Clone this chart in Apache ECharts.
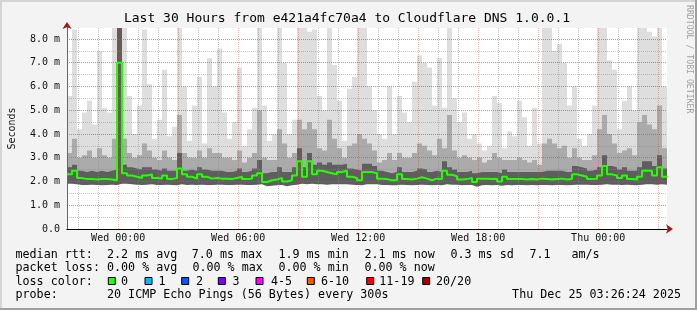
<!DOCTYPE html>
<html><head><meta charset="utf-8">
<script src="https://cdn.jsdelivr.net/npm/echarts@6/dist/echarts.min.js"></script>
<style>html,body{margin:0;padding:0;background:#f3f3f3}#c{width:697px;height:310px}</style>
</head><body><div id="c"></div><script>
const FONT = '"DejaVu Sans Mono", monospace';
// hours relative to Wed 00:00 (start Tue 21:26:24, end Thu 03:26:24)
const startHour = -2.56;
const endHour = 27.44;
const stepHours = 0.25;
const yMax = 8.46;

// smoke: max, upper grey band, dark band top, min, median (ms), one per 15 min
const hi = [
5.6,8.4,4.2,4.9,5.4,4.4,7.5,5.1,4.9,8.5,
8.5,8.5,5.6,4.0,5.2,8.4,6.1,3.8,4.6,6.7,
3.9,4.3,8.5,6.0,3.7,5.2,6.4,3.6,7.2,6.0,
7.6,4.9,3.8,4.5,6.8,3.5,4.2,5.1,8.5,5.2,
3.7,4.0,8.5,7.0,4.0,4.6,8.5,8.5,8.3,8.4,
5.6,5.0,8.5,6.9,5.4,3.7,5.9,6.4,8.5,8.5,
6.0,5.0,4.0,3.8,6.0,4.0,5.6,4.9,4.5,6.2,
7.3,7.0,6.8,5.2,7.2,5.1,8.5,5.5,4.5,4.9,
3.8,4.0,3.6,3.3,3.5,5.6,5.3,3.4,4.1,3.9,
5.4,4.7,3.5,5.1,3.6,8.5,8.5,7.5,7.8,7.0,
5.2,6.0,3.8,3.5,4.0,5.2,8.5,8.5,7.1,6.7,
4.2,5.4,6.0,5.0,8.5,8.5,8.3,8.1,8.5,6.0
];
const p2 = [
3.20,3.80,3.00,3.10,3.30,3.00,3.40,3.10,3.00,3.80,
8.50,3.80,3.20,3.00,3.10,3.60,3.30,3.00,2.90,3.30,
3.00,2.90,4.80,3.20,3.00,3.00,3.30,3.00,3.40,3.20,
3.20,3.00,3.00,2.90,3.30,2.80,3.00,3.20,5.00,3.00,
2.90,2.90,4.20,3.60,3.00,3.20,4.60,4.20,4.50,4.20,
3.40,3.30,4.60,3.80,3.40,3.00,3.50,3.60,4.00,3.80,
3.60,3.30,2.80,2.90,3.20,2.90,3.20,3.00,3.00,3.20,
3.60,3.50,3.30,3.10,3.80,3.40,4.80,3.30,3.00,3.10,
3.00,2.90,3.00,2.80,2.90,3.20,3.00,2.90,2.90,2.90,
3.00,2.90,2.80,2.90,2.70,3.60,3.80,3.60,3.40,3.50,
3.00,3.40,3.00,2.90,2.90,3.10,4.20,4.80,4.00,3.60,
3.20,3.30,3.40,3.10,4.50,4.80,4.40,4.20,5.20,3.40
];
const dk = [
2.60,2.70,2.45,2.40,2.45,2.40,2.45,2.40,2.45,2.50,
8.50,2.70,2.60,2.55,2.50,2.60,2.60,2.50,2.45,2.55,
2.45,2.45,3.20,2.45,2.50,2.45,2.60,2.50,2.45,2.45,
2.45,2.40,2.40,2.45,2.55,2.40,2.45,2.55,2.90,2.35,
2.40,2.40,2.60,2.40,2.40,2.60,3.40,2.60,3.20,2.70,
2.80,2.70,2.80,2.70,2.70,2.75,2.55,2.50,2.45,2.75,
2.75,2.65,2.45,2.40,2.35,2.40,2.60,2.40,2.40,2.45,
2.55,2.50,2.40,2.45,2.40,2.85,2.60,2.50,2.40,2.40,
2.45,2.35,2.40,2.40,2.40,2.40,2.35,2.50,2.40,2.40,
2.40,2.40,2.40,2.40,2.40,2.45,2.45,2.45,2.45,2.40,
2.40,2.65,2.60,2.55,2.45,2.50,2.60,3.10,2.65,2.60,
2.50,2.60,2.45,2.45,2.60,2.85,2.85,2.65,3.10,2.55
];
const lo = [
1.90,1.88,1.85,1.85,1.86,1.85,1.84,1.85,1.86,1.85,
1.90,1.90,1.88,1.86,1.85,1.86,1.88,1.85,1.85,1.86,
1.85,1.84,1.88,1.85,1.86,1.85,1.86,1.85,1.85,1.86,
1.86,1.85,1.85,1.86,1.86,1.85,1.85,1.86,1.88,1.80,
1.82,1.84,1.85,1.80,1.84,1.86,1.90,1.88,1.90,1.88,
1.88,1.86,1.88,1.88,1.88,1.88,1.86,1.85,1.84,1.88,
1.88,1.88,1.85,1.85,1.84,1.84,1.86,1.85,1.84,1.85,
1.86,1.85,1.84,1.85,1.84,1.88,1.86,1.86,1.84,1.85,
1.85,1.78,1.84,1.85,1.84,1.85,1.82,1.85,1.84,1.85,
1.85,1.84,1.85,1.84,1.85,1.85,1.84,1.85,1.85,1.84,
1.85,1.86,1.86,1.86,1.85,1.85,1.86,1.88,1.86,1.86,
1.85,1.86,1.85,1.84,1.86,1.88,1.88,1.86,1.88,1.86
];
const med = [
2.30,2.45,2.15,2.10,2.10,2.08,2.10,2.10,2.08,2.05,
7.00,2.35,2.25,2.20,2.15,2.25,2.30,2.15,2.12,2.25,
2.10,2.15,2.55,2.30,2.20,2.12,2.30,2.20,2.12,2.15,
2.12,2.12,2.10,2.15,2.20,2.10,2.12,2.25,2.35,1.98,
2.05,2.08,2.15,2.00,2.05,2.25,2.85,2.20,2.85,2.30,
2.45,2.40,2.35,2.30,2.40,2.45,2.20,2.15,2.05,2.40,
2.40,2.35,2.12,2.10,2.05,2.05,2.30,2.10,2.08,2.12,
2.18,2.12,2.05,2.12,2.10,2.45,2.28,2.22,2.08,2.10,
2.15,1.98,2.12,2.12,2.10,2.12,2.00,2.20,2.10,2.10,
2.10,2.08,2.10,2.08,2.12,2.10,2.08,2.10,2.12,2.08,
2.10,2.30,2.25,2.20,2.10,2.12,2.25,2.65,2.30,2.25,
2.15,2.25,2.10,2.08,2.20,2.45,2.45,2.25,2.60,2.20
];

const yTickLabels = ['0.0','1.0 m','2.0 m','3.0 m','4.0 m','5.0 m','6.0 m','7.0 m','8.0 m'];
const xTickHours = [0, 6, 12, 18, 24];
const xTickLabels = ['Wed 00:00','Wed 06:00','Wed 12:00','Wed 18:00','Thu 00:00'];

const rttStats = ['2.2 ms avg','7.0 ms max','1.9 ms min','2.1 ms now','0.3 ms sd','7.1','am/s'];
const lossStats = ['0.00 % avg','0.00 % max','0.00 % min','0.00 % now'];
const lossLabels = ['0','1','2','3','4-5','6-10','11-19','20/20'];
const lossColors = ['#26ff00','#00b8ff','#0059ff','#7e00ff','#ff00ff','#ff5500','#ff0000','#a10000'];

const titleText = 'Last 30 Hours from e421a4fc70a4 to Cloudflare DNS 1.0.0.1';
const probeText = '20 ICMP Echo Pings (56 Bytes) every 300s';
const dateText = 'Thu Dec 25 03:26:24 2025';

const GREY = 'rgba(140,140,140,0.5)';
const RED = 'rgba(225,40,40,0.36)';

const minorHours = [], majorHours = [];
for (let h = Math.ceil(startHour); h <= Math.floor(endHour); h++) {
  if (h % 3 === 0) majorHours.push(h); else minorHours.push(h);
}

function pts(arr) {
  const d = arr.map((v, i) => [startHour + i * stepHours, v]);
  d.push([endHour, arr[arr.length - 1]]);
  return d;
}
function area(arr, color) {
  return { type: 'line', data: pts(arr), step: 'end', symbol: 'none', silent: true,
    lineStyle: { width: 0 }, areaStyle: { color: color, opacity: 1 }, z: 2 };
}

const LF = '11.7px ' + FONT;
function txt(x, y, s, font, align, color) {
  return { type: 'text', x: x, y: y, silent: true,
    style: { text: s, font: font, fill: color || '#000', textAlign: align || 'left', textVerticalAlign: 'middle' } };
}
const rows = [254.5, 268.3, 281.8, 295.3];
const rttX = [107, 191.8, 278.4, 364.4, 450.4, 529.4, 571.4];
const lossX = [107, 192.4, 278.4, 364.4];
const boxX = [108.3, 145, 181.7, 218.3, 256, 307.3, 366.7, 422.7];
const boxTextX = [121, 158.6, 196, 232.6, 271, 321, 379.3, 436];

const graphics = [
  { type: 'rect', shape: { x: 0, y: 0, width: 697, height: 2 }, style: { fill: '#d4d4d4' }, silent: true },
  { type: 'rect', shape: { x: 0, y: 0, width: 2, height: 310 }, style: { fill: '#d4d4d4' }, silent: true },
  { type: 'rect', shape: { x: 0, y: 308, width: 697, height: 2 }, style: { fill: '#a0a0a0' }, silent: true },
  { type: 'rect', shape: { x: 695, y: 0, width: 2, height: 310 }, style: { fill: '#a0a0a0' }, silent: true },
  txt(347, 19, titleText, '13px ' + FONT, 'center'),
  { type: 'text', x: 689, y: 5, rotation: -Math.PI / 2, silent: true,
    style: { text: 'RRDTOOL / TOBI OETIKER', font: '8.2px ' + FONT, fill: '#a0a0a0', textAlign: 'left', textVerticalAlign: 'middle' } },
  txt(15.5, rows[0], 'median rtt:', LF),
  txt(15.5, rows[1], 'packet loss:', LF),
  txt(15.5, rows[2], 'loss color:', LF),
  txt(15.5, rows[3], 'probe:', LF),
  txt(107, rows[3], probeText, LF),
  txt(681, rows[3], dateText, LF, 'right')
];
rttStats.forEach((s, i) => graphics.push(txt(rttX[i], rows[0], s, LF)));
lossStats.forEach((s, i) => graphics.push(txt(lossX[i], rows[1], s, LF)));
lossLabels.forEach((s, i) => {
  graphics.push({ type: 'rect', silent: true, shape: { x: boxX[i], y: 277.5, width: 7, height: 7 },
    style: { fill: lossColors[i], stroke: '#000', lineWidth: 1 } });
  graphics.push(txt(boxTextX[i], rows[2], s, LF));
});

const axisFont = { fontFamily: FONT, fontSize: 10, color: '#111' };

const option = {
  animation: false,
  backgroundColor: '#f3f3f3',
  grid: { left: 67, top: 28, width: 600, height: 201, show: true, backgroundColor: '#ffffff', borderWidth: 0,
    containLabel: false, outerBoundsMode: 'none' },
  xAxis: [
    { type: 'value', position: 'bottom', min: startHour, max: endHour, z: 3,
      axisLine: { show: false, onZero: false }, axisTick: { show: false, customValues: minorHours },
      axisLabel: { show: false }, splitLine: { show: true, lineStyle: { color: GREY, type: [1, 1], width: 1 } } },
    { type: 'value', position: 'bottom', min: startHour, max: endHour, z: 3,
      axisLine: { show: true, onZero: false, symbol: ['none', 'arrow'], symbolSize: [7, 7], symbolOffset: [0, 6], lineStyle: { color: '#a01818' } },
      axisTick: { show: false }, axisLabel: { show: false }, splitLine: { show: false } },
    { type: 'value', position: 'bottom', min: startHour, max: endHour, z: 4,
      axisLine: { show: true, onZero: false, lineStyle: { color: '#000', width: 1 } },
      axisTick: { show: false, customValues: majorHours },
      axisLabel: Object.assign({ show: true, customValues: xTickHours, margin: 4,
        formatter: v => { const k = xTickHours.indexOf(Math.round(v)); return k >= 0 ? xTickLabels[k] : ''; } }, axisFont),
      splitLine: { show: true, lineStyle: { color: RED, type: [1, 1], width: 1 } } }
  ],
  yAxis: [
    { type: 'value', position: 'left', min: 0, max: yMax, interval: 0.5, z: 3,
      axisLine: { show: false, onZero: false }, axisTick: { show: false }, axisLabel: { show: false },
      splitLine: { show: true, showMinLine: false, showMaxLine: false, lineStyle: { color: GREY, type: [1, 1], width: 1 } } },
    { type: 'value', position: 'left', min: 0, max: yMax, z: 3,
      axisLine: { show: true, onZero: false, symbol: ['none', 'arrow'], symbolSize: [7, 7], symbolOffset: [0, 6], lineStyle: { color: '#a01818' } },
      axisTick: { show: false }, axisLabel: { show: false }, splitLine: { show: false } },
    { type: 'value', position: 'left', min: 0, max: yMax, interval: 1, z: 4,
      name: 'Seconds', nameLocation: 'middle', nameGap: 50, nameRotate: 90,
      nameTextStyle: { fontFamily: FONT, fontSize: 10, color: '#111' },
      axisLine: { show: true, onZero: false, lineStyle: { color: '#666', width: 1 } },
      axisTick: { show: false },
      axisLabel: Object.assign({ margin: 7, showMaxLabel: false,
        formatter: v => (Number.isInteger(v) && yTickLabels[v] !== undefined) ? yTickLabels[v] : '' }, axisFont),
      splitLine: { show: true, showMinLine: false, showMaxLine: false, lineStyle: { color: RED, type: [1, 1], width: 1 } } }
  ],
  graphic: graphics,
  series: [
    area(hi, '#dedede'),
    area(p2, '#ababab'),
    area(dk, '#5e5e5e'),
    area(lo, '#ffffff'),
    { type: 'line', data: pts(med), step: 'end', symbol: 'none', silent: true, z: 5,
      lineStyle: { color: '#26ff00', width: 2 } }
  ]
};
echarts.init(document.getElementById('c')).setOption(option);
</script></body></html>
